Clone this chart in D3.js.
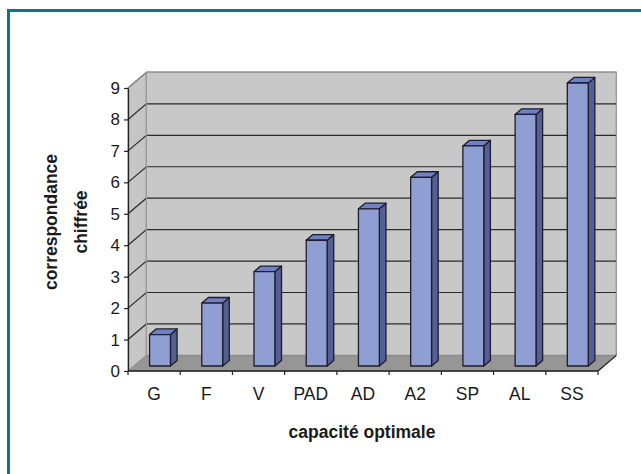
<!DOCTYPE html>
<html>
<head>
<meta charset="utf-8">
<script src="https://cdn.jsdelivr.net/npm/d3@7"></script>
<style>
  html, body { margin: 0; padding: 0; background: #fff; }
  svg { display: block; font-family: "Liberation Sans", Arial, sans-serif; }
</style>
</head>
<body>
<svg id="chart" width="641" height="474"></svg>
<script>
// Categories and their numeric correspondence
const categories = ["G", "F", "V", "PAD", "AD", "A2", "SP", "AL", "SS"];
const values = [1, 2, 3, 4, 5, 6, 7, 8, 9];
const yTicks = [0, 1, 2, 3, 4, 5, 6, 7, 8, 9];
const xTitle = "capacité optimale";
const yTitleLines = ["correspondance", "chiffrée"];

const svg = d3.select("#chart");

// Frame: only the top and left edges fall inside the view
svg.append("path")
  .attr("d", "M8.5,480 V10.5 H660")
  .attr("fill", "none")
  .attr("stroke", "#166f8c")
  .attr("stroke-width", 3);

// Front plane of the 3D plot and its depth offset
const x0 = 128, x1 = 598, yBase = 371, yTop = 88;
const DX = 18.4, DY = -15.6;           // full depth shift of the back wall
const fFront = 0.32, fBack = 0.68;      // bar depth span (fraction of full depth)
const stretch = 1.08;                   // slight vertical stretch of the lettering

const x = d3.scaleBand().domain(categories).range([x0, x1])
  .paddingInner(0.6).paddingOuter(0.3);
const y = d3.scaleLinear().domain([0, 9]).range([yBase, yTop]);

const pt = (px, py, f) => [px + DX * f, py + DY * f];
const poly = pts => "M" + pts.map(p => p.join(",")).join("L") + "Z";

const g = svg.append("g");

// Left side wall
g.append("path")
  .attr("d", poly([pt(x0, y(0), 0), pt(x0, y(9), 0), pt(x0, y(9), 1), pt(x0, y(0), 1)]))
  .attr("fill", "#c6c6c6").attr("stroke", "#9a9a9a").attr("stroke-width", 1);

// Back wall
g.append("path")
  .attr("d", poly([pt(x0, y(0), 1), pt(x0, y(9), 1), pt(x1, y(9), 1), pt(x1, y(0), 1)]))
  .attr("fill", "#c8c8c8").attr("stroke", "#9a9a9a").attr("stroke-width", 1.2);

// Floor
g.append("path")
  .attr("d", poly([pt(x0, y(0), 0), pt(x1, y(0), 0), pt(x1, y(0), 1), pt(x0, y(0), 1)]))
  .attr("fill", "#969696").attr("stroke", "#8a8a8a").attr("stroke-width", 1);
g.append("line")
  .attr("x1", pt(x1, y(0), 0)[0]).attr("y1", pt(x1, y(0), 0)[1])
  .attr("x2", pt(x1, y(0), 1)[0]).attr("y2", pt(x1, y(0), 1)[1])
  .attr("stroke", "#222").attr("stroke-width", 1.2);

// Gridlines across the side wall and the back wall
const grid = yTicks.filter(v => v > 0);
g.selectAll("path.grid").data(grid).enter().append("path")
  .attr("class", "grid")
  .attr("d", v => "M" + pt(x0, y(v), 0).join(",") + "L" + pt(x0, y(v), 1).join(",") +
                  "L" + pt(x1, y(v), 1).join(","))
  .attr("fill", "none").attr("stroke", "#2a2a2a").attr("stroke-width", 1.2);

// Back wall outline drawn over gridline ends
g.append("path")
  .attr("d", "M" + pt(x0, y(9), 0).join(",") + "L" + pt(x0, y(9), 1).join(",") +
             "L" + pt(x1, y(9), 1).join(",") + "L" + pt(x1, y(0), 1).join(","))
  .attr("fill", "none").attr("stroke", "#9a9a9a").attr("stroke-width", 1.2);
g.append("line")
  .attr("x1", pt(x0, y(0), 1)[0]).attr("y1", pt(x0, y(0), 1)[1])
  .attr("x2", pt(x0, y(9), 1)[0]).attr("y2", pt(x0, y(9), 1)[1])
  .attr("stroke", "#9a9a9a").attr("stroke-width", 1.2);

// Bars as boxes: side, top and front faces
const bars = g.selectAll("g.bar").data(categories.map((c, i) => ({ c, v: values[i] })))
  .enter().append("g").attr("class", "bar");

function applyStroke(sel) {
  return sel.attr("stroke", "#1e1e28").attr("stroke-width", 1.3).attr("stroke-linejoin", "round");
}

applyStroke(bars.append("path")
  .attr("d", d => {
    const r = x(d.c) + x.bandwidth();
    return poly([pt(r, y(0), fFront), pt(r, y(0), fBack), pt(r, y(d.v), fBack), pt(r, y(d.v), fFront)]);
  })
  .attr("fill", "#535f96"));

applyStroke(bars.append("path")
  .attr("d", d => {
    const l = x(d.c), r = x(d.c) + x.bandwidth();
    return poly([pt(l, y(d.v), fFront), pt(r, y(d.v), fFront), pt(r, y(d.v), fBack), pt(l, y(d.v), fBack)]);
  })
  .attr("fill", "#6f80c6"));

applyStroke(bars.append("path")
  .attr("d", d => {
    const l = x(d.c), r = x(d.c) + x.bandwidth();
    return poly([pt(l, y(0), fFront), pt(r, y(0), fFront), pt(r, y(d.v), fFront), pt(l, y(d.v), fFront)]);
  })
  .attr("fill", "#8f9fd3"));

// Y axis on the front left edge
const yAxis = d3.axisLeft(y).tickValues(yTicks).tickSize(4).tickPadding(4).tickSizeOuter(0);
const ya = svg.append("g").attr("transform", `translate(${x0},0)`).call(yAxis);
ya.select(".domain").attr("stroke", "#222").attr("stroke-width", 1.3);
ya.selectAll(".tick line").attr("stroke", "#222").attr("stroke-width", 1.2);
ya.selectAll(".tick text").attr("font-size", 17).attr("fill", "#1a1a1a")
  .attr("font-family", "'Liberation Sans', Arial, sans-serif");

// X axis on the front bottom edge: ticks between categories, labels centred
const xa = svg.append("g").attr("transform", `translate(0,${yBase})`);
xa.append("line").attr("x1", x0).attr("x2", x1).attr("stroke", "#222").attr("stroke-width", 1.3);
const bounds = d3.range(categories.length + 1).map(i => x0 + i * x.step());
xa.selectAll("line.tk").data(bounds).enter().append("line")
  .attr("class", "tk").attr("x1", d => d).attr("x2", d => d).attr("y1", 0).attr("y2", 4)
  .attr("stroke", "#222").attr("stroke-width", 1.2);
xa.selectAll("text").data(categories).enter().append("text")
  .attr("transform", c => `translate(${x(c) + x.bandwidth() / 2},29) scale(1,${stretch})`)
  .attr("text-anchor", "middle").attr("font-size", 17.5).attr("fill", "#1a1a1a")
  .text(c => c);

// Axis titles
svg.append("text").attr("transform", `translate(362,438) scale(1,${stretch})`)
  .attr("text-anchor", "middle")
  .attr("font-size", 17.5).attr("font-weight", "bold").attr("fill", "#1a1a1a")
  .text(xTitle);

const yt = svg.append("text").attr("transform", `translate(57,222) rotate(-90) scale(1,${stretch})`)
  .attr("text-anchor", "middle").attr("font-size", 17.5).attr("font-weight", "bold")
  .attr("fill", "#1a1a1a");
yt.append("tspan").attr("x", 0).attr("y", 0).text(yTitleLines[0]);
yt.append("tspan").attr("x", 0).attr("y", 27.5).text(yTitleLines[1]);
</script>
</body>
</html>
